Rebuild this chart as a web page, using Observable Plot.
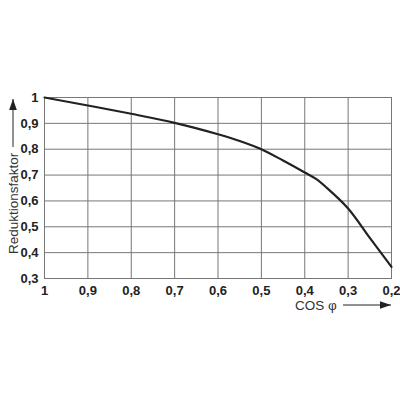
<!DOCTYPE html>
<html><head><meta charset="utf-8">
<script src="https://cdn.jsdelivr.net/npm/d3@7"></script>
<script src="https://cdn.jsdelivr.net/npm/@observablehq/plot@0.6"></script>
<style>html,body{margin:0;padding:0;background:#fff}</style>
</head><body><div id="chart"></div>
<script>
const cosPhi = [1, 0.9, 0.8, 0.7, 0.6, 0.55, 0.5, 0.45, 0.4, 0.375, 0.35, 0.3, 0.25, 0.2];
const faktor = [1, 0.969, 0.937, 0.902, 0.858, 0.832, 0.8, 0.756, 0.71, 0.686, 0.652, 0.571, 0.457, 0.345];
const xTicks = [1, 0.9, 0.8, 0.7, 0.6, 0.5, 0.4, 0.3, 0.2];
const yTicks = [1, 0.9, 0.8, 0.7, 0.6, 0.5, 0.4, 0.3];
const xLabel = "COS φ";
const yLabel = "Reduktionsfaktor";

const data = cosPhi.map((c, i) => ({c, f: faktor[i]}));
const fmt = d => String(d).replace(".", ",");
const FONT = "Liberation Sans, Arial, sans-serif";

const plot = Plot.plot({
  width: 400, height: 400,
  marginLeft: 44, marginRight: 9, marginTop: 97, marginBottom: 122,
  style: {fontFamily: FONT, background: "#fff"},
  x: {domain: [1, 0.2], ticks: xTicks, tickFormat: fmt, label: null},
  y: {domain: [0.3, 1], ticks: yTicks, tickFormat: fmt, label: null},
  marks: [
    Plot.gridX(xTicks, {stroke: "#777", strokeOpacity: 1, strokeWidth: 1}),
    Plot.gridY(yTicks, {stroke: "#777", strokeOpacity: 1, strokeWidth: 1}),
    Plot.frame({stroke: "#777", strokeWidth: 1}),
    Plot.axisX(xTicks, {tickSize: 0, tickPadding: 7, tickFormat: fmt, fontSize: 13, fontWeight: "bold", fill: "#222", label: null}),
    Plot.axisY(yTicks, {tickSize: 0, tickPadding: 6, tickFormat: fmt, fontSize: 13, fontWeight: "bold", fill: "#222", label: null}),
    Plot.line(data, {x: "c", y: "f", stroke: "#222", strokeWidth: 2.2, curve: "catmull-rom"})
  ]
});

const svg = d3.select(plot);
const defs = svg.append("defs");
defs.append("marker").attr("id", "ah").attr("viewBox", "0 0 10 10").attr("refX", 10).attr("refY", 5)
  .attr("markerWidth", 11).attr("markerHeight", 11).attr("markerUnits", "userSpaceOnUse").attr("orient", "auto")
  .append("path").attr("d", "M0,1.5 L10,5 L0,8.5 Z").attr("fill", "#222");

// y label with arrow
svg.append("text").attr("transform", "translate(18,254) rotate(-90)")
  .attr("text-anchor", "start")
  .style("font-family", FONT).style("font-size", "13.5px").style("font-weight", "normal").attr("fill", "#333")
  .text(yLabel);
svg.append("line").attr("x1", 13).attr("x2", 13).attr("y1", 147).attr("y2", 99)
  .attr("stroke", "#222").attr("stroke-width", 1).attr("marker-end", "url(#ah)");

// x label with arrow
svg.append("text").attr("x", 295).attr("y", 310)
  .attr("text-anchor", "start")
  .style("font-family", FONT).style("font-size", "13.5px").style("font-weight", "normal").attr("fill", "#333")
  .text(xLabel);
svg.append("line").attr("x1", 343).attr("x2", 391).attr("y1", 305).attr("y2", 305)
  .attr("stroke", "#222").attr("stroke-width", 1).attr("marker-end", "url(#ah)");

document.getElementById("chart").appendChild(plot);
</script>
</body></html>
